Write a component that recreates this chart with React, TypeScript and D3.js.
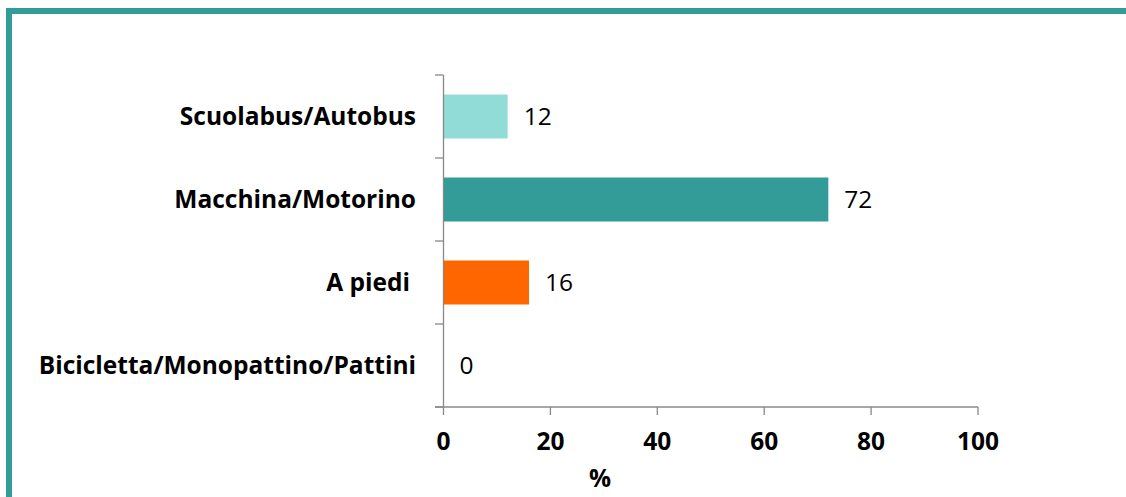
import React from "react";
import * as d3 from "d3";

const categories = ["Scuolabus/Autobus", "Macchina/Motorino", "A piedi", "Bicicletta/Monopattino/Pattini"];
const values = [12, 72, 16, 0];
const colors = ["#92dcd8", "#339b98", "#ff6600", "#339b98"];
const xTicks = [0, 20, 40, 60, 80, 100];

export default function App() {
  const W = 1126, H = 497;
  const x = d3.scaleLinear().domain([0, 100]).range([443.5, 978]);
  const y = d3.scaleBand().domain(categories).range([75, 407]).paddingInner(0.47).paddingOuter(0.235);
  const font = "'Open Sans', sans-serif";
  const fs = 24.5;
  const bandEdges = d3.range(categories.length + 1).map(i => 75 + (i * (407 - 75)) / categories.length);
  return (
    <svg width={W} height={H} style={{ position: "absolute", left: 0, top: 0 }}>
      <rect x={0} y={0} width={W} height={H} fill="#fff" />
      <rect x={6} y={8} width={W - 6} height={6} fill="#339b98" />
      <rect x={6} y={8} width={6} height={H - 8} fill="#339b98" />
      {categories.map((c, i) => (
        <g key={c}>
          <rect x={x(0)} y={y(c)!} width={x(values[i]) - x(0)} height={y.bandwidth()} fill={colors[i]} />
          <text x={x(values[i]) + 16} y={y(c)! + y.bandwidth() / 2} dy="0.36em" fontFamily={font} fontSize={fs} fill="#000">
            {values[i]}
          </text>
          <text x={c === "A piedi" ? 410 : 416} y={y(c)! + y.bandwidth() / 2} dy="0.36em" textAnchor="end" fontFamily={font} fontSize={fs} fontWeight="bold" fill="#000">
            {c}
          </text>
        </g>
      ))}
      <line x1={x(0)} x2={x(0)} y1={75} y2={407} stroke="#888" strokeWidth={1.3} />
      {bandEdges.map((e, i) => (
        <line key={i} x1={435} x2={x(0)} y1={e} y2={e} stroke="#888" strokeWidth={1.3} />
      ))}
      <line x1={435} x2={x(100)} y1={407} y2={407} stroke="#888" strokeWidth={1.3} />
      {xTicks.map(t => (
        <g key={t}>
          <line x1={x(t)} x2={x(t)} y1={407} y2={415} stroke="#888" strokeWidth={1.3} />
          <text x={x(t)} y={441} dy="0.36em" textAnchor="middle" fontFamily={font} fontSize={fs} fontWeight="bold" fill="#000">
            {t}
          </text>
        </g>
      ))}
      <text x={600} y={478} dy="0.36em" textAnchor="middle" fontFamily={font} fontSize={fs} fontWeight="bold" fill="#000">
        %
      </text>
    </svg>
  );
}
